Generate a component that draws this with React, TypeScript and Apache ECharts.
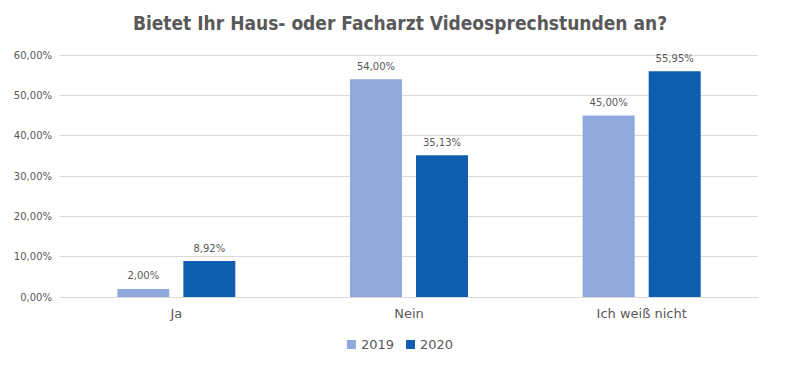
import React, { useEffect, useRef } from "react";
import * as echarts from "echarts";

const categories = ["Ja", "Nein", "Ich weiß nicht"];
const values2019 = [2.0, 54.0, 45.0];
const values2020 = [8.92, 35.13, 55.95];
const seriesNames = ["2019", "2020"];

const fmt = (v: number) => v.toFixed(2).replace(".", ",") + "%";

export default function App() {
  const ref = useRef<HTMLDivElement>(null);
  useEffect(() => {
    const chart = echarts.init(ref.current!, null, { renderer: "svg" });
    const font = "Verdana, 'DejaVu Sans', sans-serif";
    chart.setOption({
      animation: false,
      title: {
        text: "Bietet Ihr Haus- oder Facharzt Videosprechstunden an?",
        left: "center",
        top: 0,
        textStyle: {
          fontFamily: "'DejaVu Sans Condensed', 'DejaVu Sans', sans-serif",
          fontWeight: "bold",
          fontSize: 19,
          color: "#595959",
        },
      },
      legend: {
        data: seriesNames,
        bottom: 18,
        left: "center",
        itemWidth: 9,
        itemHeight: 9,
        itemGap: 12,
        icon: "rect",
        textStyle: { fontFamily: font, fontSize: 13, color: "#595959" },
      },
      grid: { left: 52, right: 34, top: 47, bottom: 77, containLabel: false },
      xAxis: {
        type: "category",
        data: categories,
        axisLine: { lineStyle: { color: "#d9d9d9" } },
        axisTick: { show: false },
        axisLabel: { fontFamily: font, fontSize: 13, color: "#595959", margin: 10 },
      },
      yAxis: {
        type: "value",
        min: 0,
        max: 60,
        interval: 10,
        axisLine: { show: false },
        axisTick: { show: false },
        splitLine: { lineStyle: { color: "#d9d9d9" } },
        axisLabel: {
          fontFamily: font,
          fontSize: 10,
          color: "#595959",
          margin: 8,
          formatter: (v: number) => fmt(v),
        },
      },
      series: [
        {
          name: seriesNames[0],
          type: "bar",
          data: values2019,
          barWidth: 52,
          barGap: "27%",
          itemStyle: { color: "#8EA9DB" },
          label: {
            show: true,
            position: "top",
            distance: 8,
            fontFamily: font,
            fontSize: 10,
            color: "#595959",
            formatter: (p: any) => fmt(p.value),
          },
        },
        {
          name: seriesNames[1],
          type: "bar",
          data: values2020,
          barWidth: 52,
          barGap: "27%",
          itemStyle: { color: "#0F5FB0" },
          label: {
            show: true,
            position: "top",
            distance: 8,
            fontFamily: font,
            fontSize: 10,
            color: "#595959",
            formatter: (p: any) => fmt(p.value),
          },
        },
      ],
    });
    return () => chart.dispose();
  }, []);
  return <div ref={ref} style={{ width: 784, height: 366 }} />;
}
